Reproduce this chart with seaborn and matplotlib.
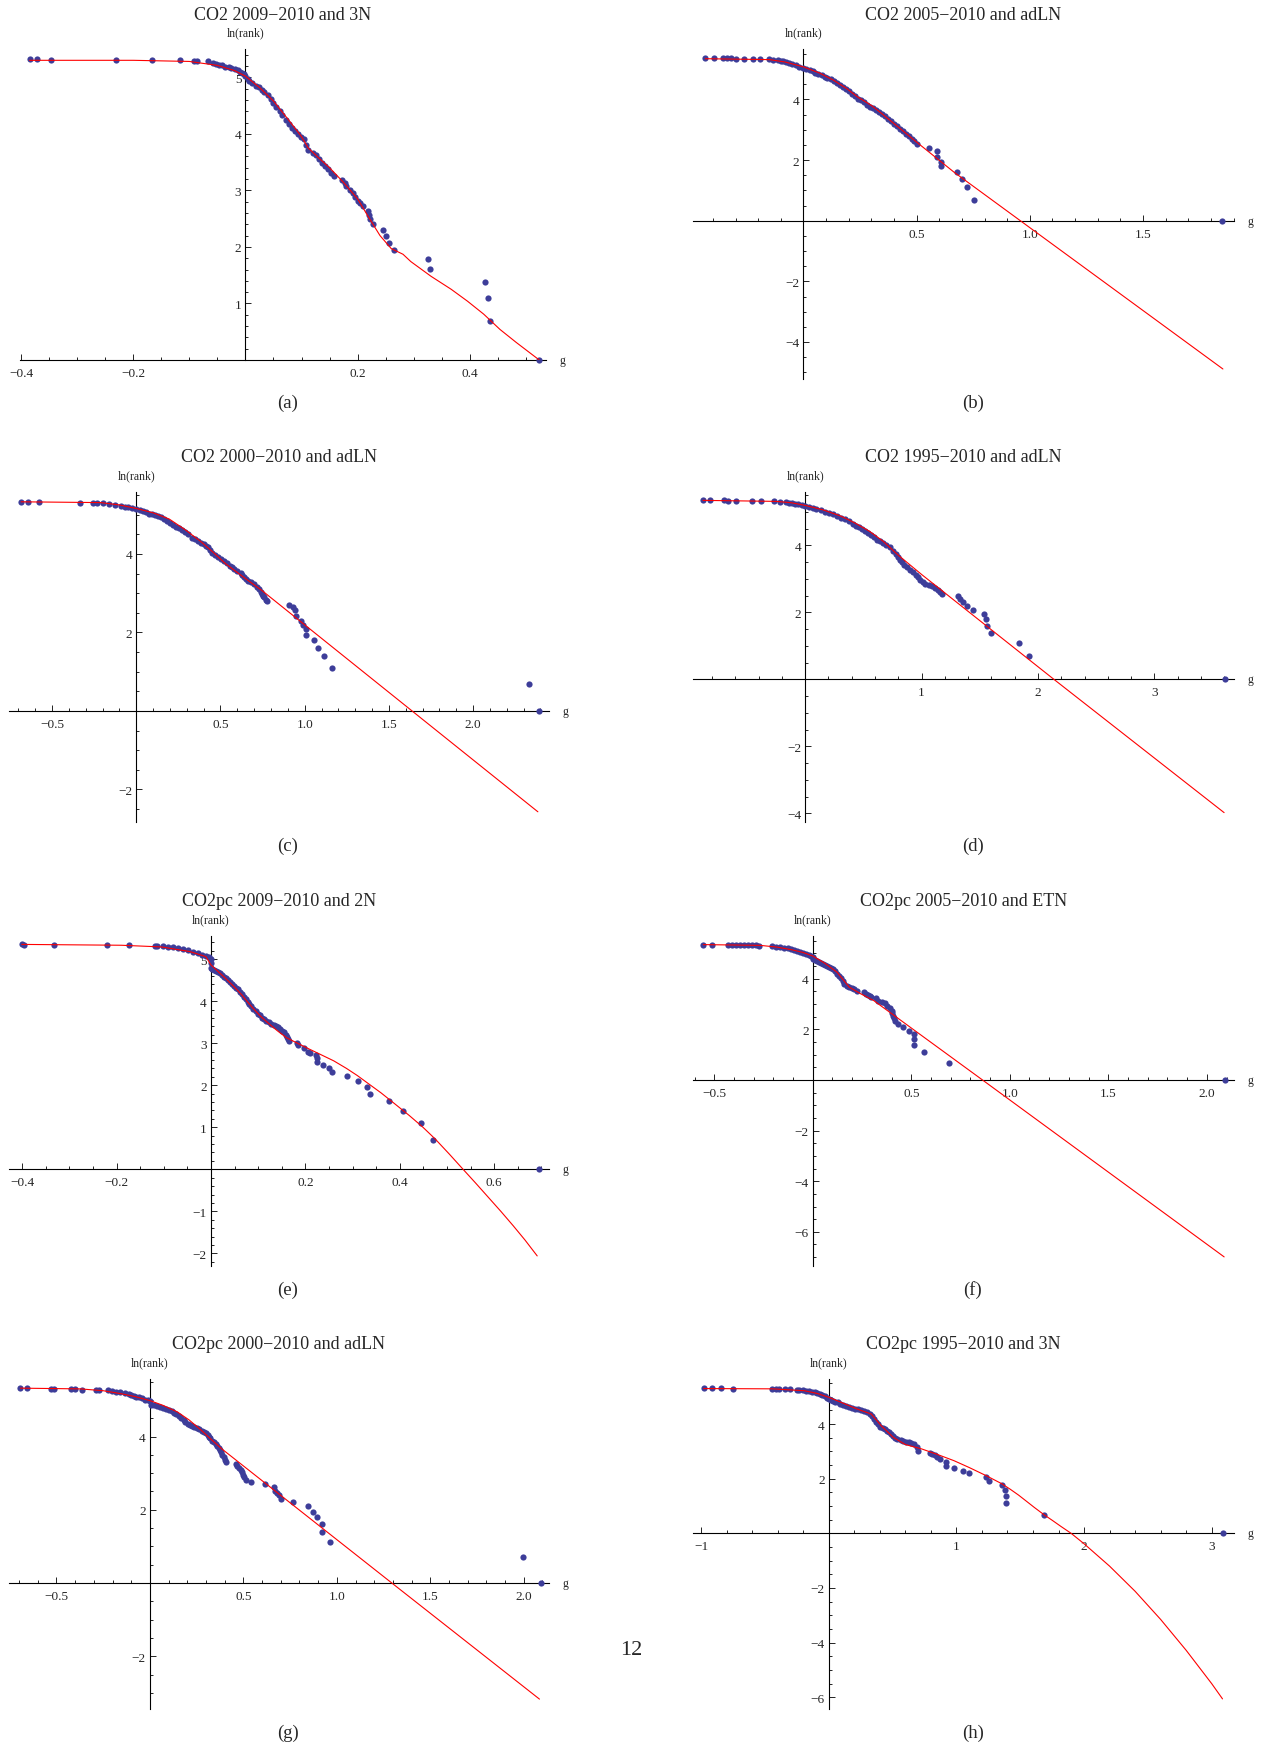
import matplotlib
matplotlib.use("Agg")
import matplotlib.pyplot as plt
import matplotlib.ticker as mticker
import seaborn as sns
import pandas as pd

# ---- panel titles / labels
titles = ["CO2 2009\u22122010 and 3N", "CO2 2005\u22122010 and adLN",
          "CO2 2000\u22122010 and adLN", "CO2 1995\u22122010 and adLN",
          "CO2pc 2009\u22122010 and 2N", "CO2pc 2005\u22122010 and ETN",
          "CO2pc 2000\u22122010 and adLN", "CO2pc 1995\u22122010 and 3N"]
sublabels = ["(a)", "(b)", "(c)", "(d)", "(e)", "(f)", "(g)", "(h)"]

# ---- (a) CO2 2009-2010, 3N
a_g = [-0.385, -0.371, -0.347, -0.231, -0.166, -0.117, -0.091, -0.086, -0.066, -0.058, -0.052, -0.047,
       -0.041, -0.036, -0.030, -0.025, -0.019, -0.014, -0.010, -0.007, -0.003, 0.0, 0.004, 0.007, 0.012,
       0.018, 0.024, 0.029, 0.034, 0.040, 0.045, 0.050, 0.055, 0.061, 0.066, 0.072, 0.077, 0.083, 0.088,
       0.094, 0.099, 0.104, 0.108, 0.112, 0.120, 0.126, 0.131, 0.137, 0.142, 0.148, 0.153, 0.158, 0.173,
       0.177, 0.180, 0.186, 0.191, 0.196, 0.200, 0.205, 0.209, 0.218, 0.220, 0.222, 0.227, 0.245, 0.250,
       0.256, 0.265, 0.326, 0.329, 0.427, 0.432, 0.436, 0.524]
a_rank = [5.32, 5.32, 5.31, 5.31, 5.30, 5.30, 5.29, 5.29, 5.28, 5.25, 5.24, 5.22,
          5.21, 5.19, 5.18, 5.16, 5.14, 5.12, 5.10, 5.08, 5.05, 5.02, 4.97, 4.93, 4.89,
          4.85, 4.82, 4.78, 4.74, 4.69, 4.62, 4.55, 4.48, 4.40, 4.33, 4.25, 4.18, 4.10, 4.05,
          3.99, 3.95, 3.90, 3.80, 3.72, 3.66, 3.63, 3.56, 3.49, 3.43, 3.37, 3.31, 3.25, 3.19,
          3.13, 3.07, 3.01, 2.96, 2.89, 2.81, 2.77, 2.72, 2.63, 2.56, 2.49, 2.40, 2.30, 2.19,
          2.07, 1.94, 1.79, 1.61, 1.38, 1.10, 0.69, 0.0]
a_fit_g = [-0.385, -0.2, -0.1, -0.05, -0.02, 0.0, 0.025, 0.05, 0.075, 0.1, 0.112, 0.13, 0.15, 0.175,
           0.2, 0.22, 0.24, 0.26, 0.281, 0.295, 0.331, 0.367, 0.396, 0.425, 0.454, 0.483, 0.524]
a_fit_y = [5.30, 5.30, 5.28, 5.21, 5.12, 5.02, 4.82, 4.58, 4.27, 3.95, 3.75, 3.58, 3.40, 3.14,
           2.85, 2.52, 2.20, 1.97, 1.87, 1.74, 1.48, 1.25, 1.04, 0.81, 0.54, 0.31, 0.0]

# ---- (b) CO2 2005-2010, adLN
b_g = [-0.434, -0.394, -0.355, -0.337, -0.320, -0.296, -0.261, -0.225, -0.190, -0.154, -0.133, -0.112,
       -0.100, -0.089, -0.075, -0.062, -0.049, -0.035, -0.018, 0.0, 0.013, 0.027, 0.040, 0.053, 0.066,
       0.080, 0.093, 0.106, 0.120, 0.133, 0.146, 0.160, 0.173, 0.186, 0.200, 0.213, 0.226, 0.239, 0.252,
       0.266, 0.280, 0.293, 0.306, 0.319, 0.333, 0.346, 0.359, 0.372, 0.386, 0.399, 0.412, 0.426, 0.439,
       0.452, 0.465, 0.479, 0.490, 0.500, 0.555, 0.589, 0.590, 0.608, 0.608, 0.679, 0.700, 0.722, 0.754,
       1.848]
b_rank = [5.37, 5.37, 5.36, 5.35, 5.35, 5.34, 5.34, 5.33, 5.33, 5.33, 5.31, 5.29,
          5.28, 5.26, 5.23, 5.20, 5.16, 5.12, 5.08, 5.04, 5.00, 4.96, 4.92, 4.88, 4.84,
          4.79, 4.75, 4.71, 4.66, 4.60, 4.54, 4.48, 4.42, 4.35, 4.27, 4.19, 4.10, 4.02, 3.97,
          3.91, 3.83, 3.75, 3.70, 3.64, 3.58, 3.53, 3.45, 3.36, 3.28, 3.20, 3.12, 3.03, 2.95,
          2.87, 2.79, 2.70, 2.62, 2.53, 2.40, 2.31, 2.09, 1.93, 1.80, 1.62, 1.38, 1.10, 0.69,
          0.0]
b_fit_g = [-0.434, -0.15, -0.08, 0.0, 0.07, 0.133, 0.19, 0.239, 0.30, 0.346, 0.42, 0.5, 0.665, 1.853]
b_fit_y = [5.34, 5.31, 5.23, 5.07, 4.87, 4.63, 4.36, 4.08, 3.80, 3.53, 3.08, 2.59, 1.60, -4.89]

# ---- (c) CO2 2000-2010, adLN
c_g = [-0.684, -0.646, -0.577, -0.335, -0.258, -0.234, -0.199, -0.163, -0.127, -0.091, -0.070, -0.048,
       -0.024, 0.0, 0.020, 0.041, 0.059, 0.077, 0.095, 0.112, 0.130, 0.148, 0.166, 0.184, 0.202, 0.220,
       0.238, 0.256, 0.274, 0.292, 0.310, 0.328, 0.346, 0.364, 0.382, 0.400, 0.412, 0.423, 0.435, 0.447,
       0.465, 0.483, 0.501, 0.519, 0.537, 0.555, 0.567, 0.579, 0.600, 0.620, 0.630, 0.639, 0.651, 0.663,
       0.681, 0.699, 0.715, 0.730, 0.738, 0.746, 0.754, 0.761, 0.768, 0.775, 0.909, 0.933, 0.945, 0.950,
       0.981, 0.990, 1.010, 1.010, 1.057, 1.081, 1.112, 1.160, 2.330, 2.392]
c_rank = [5.33, 5.33, 5.32, 5.31, 5.31, 5.30, 5.29, 5.28, 5.26, 5.23, 5.21, 5.19,
          5.17, 5.14, 5.11, 5.09, 5.06, 5.03, 5.01, 4.99, 4.97, 4.94, 4.90, 4.85, 4.79, 4.74,
          4.70, 4.65, 4.61, 4.57, 4.50, 4.42, 4.38, 4.34, 4.29, 4.25, 4.21, 4.17, 4.10, 4.03,
          3.97, 3.92, 3.88, 3.83, 3.77, 3.70, 3.66, 3.62, 3.57, 3.52, 3.46, 3.41, 3.36, 3.32,
          3.28, 3.24, 3.17, 3.11, 3.04, 2.98, 2.94, 2.90, 2.84, 2.79, 2.71, 2.64, 2.58, 2.41,
          2.29, 2.19, 2.08, 1.94, 1.80, 1.61, 1.39, 1.10, 0.69, 0.0]
c_fit_g = [-0.684, -0.211, -0.1, 0.0, 0.1, 0.196, 0.29, 0.388, 0.46, 0.531, 0.64, 0.746, 1.632, 2.385]
c_fit_y = [5.33, 5.31, 5.25, 5.16, 5.05, 4.89, 4.62, 4.30, 4.03, 3.75, 3.40, 3.07, 0.02, -2.57]

# ---- (d) CO2 1995-2010, adLN
d_g = [-0.878, -0.815, -0.697, -0.662, -0.592, -0.460, -0.380, -0.268, -0.216, -0.164, -0.137, -0.111,
       -0.085, -0.059, -0.030, 0.0, 0.032, 0.063, 0.097, 0.132, 0.167, 0.202, 0.237, 0.272, 0.307, 0.341,
       0.376, 0.411, 0.437, 0.463, 0.490, 0.516, 0.542, 0.568, 0.594, 0.620, 0.646, 0.672, 0.698, 0.725,
       0.751, 0.777, 0.795, 0.812, 0.830, 0.847, 0.873, 0.899, 0.925, 0.951, 0.969, 0.986, 1.008, 1.031,
       1.061, 1.091, 1.117, 1.143, 1.160, 1.178, 1.317, 1.334, 1.352, 1.394, 1.439, 1.533, 1.554, 1.561,
       1.596, 1.833, 1.927, 3.606]
d_rank = [5.34, 5.34, 5.34, 5.33, 5.32, 5.32, 5.32, 5.31, 5.30, 5.28, 5.27, 5.25,
          5.24, 5.22, 5.19, 5.16, 5.13, 5.10, 5.07, 5.04, 5.00, 4.96, 4.92, 4.87, 4.82, 4.77,
          4.71, 4.64, 4.59, 4.54, 4.48, 4.42, 4.36, 4.30, 4.24, 4.17, 4.12, 4.07, 4.01, 3.94,
          3.84, 3.74, 3.65, 3.57, 3.50, 3.42, 3.35, 3.27, 3.20, 3.12, 3.05, 2.97, 2.90, 2.84,
          2.80, 2.77, 2.71, 2.65, 2.60, 2.56, 2.49, 2.40, 2.30, 2.19, 2.07, 1.94, 1.79, 1.60,
          1.38, 1.09, 0.68, 0.0]
d_fit_g = [-0.878, -0.251, -0.12, 0.0, 0.15, 0.307, 0.43, 0.551, 0.67, 0.794, 1.003, 2.136, 3.599]
d_fit_y = [5.34, 5.31, 5.27, 5.19, 5.06, 4.87, 4.66, 4.42, 4.12, 3.72, 3.12, 0.0, -3.98]

# ---- (e) CO2pc 2009-2010, 2N
e_g = [-0.401, -0.397, -0.333, -0.220, -0.173, -0.119, -0.115, -0.102, -0.092, -0.081, -0.071, -0.060,
       -0.049, -0.038, -0.028, -0.020, -0.011, -0.004, 0.0, 0.0, 0.0, 0.002, 0.006, 0.010, 0.014, 0.018,
       0.023, 0.027, 0.031, 0.036, 0.040, 0.045, 0.049, 0.053, 0.057, 0.062, 0.066, 0.070, 0.074, 0.078,
       0.081, 0.085, 0.089, 0.095, 0.100, 0.104, 0.108, 0.113, 0.117, 0.122, 0.127, 0.133, 0.138, 0.142,
       0.146, 0.151, 0.155, 0.158, 0.161, 0.164, 0.166, 0.183, 0.185, 0.197, 0.206, 0.210, 0.223, 0.225,
       0.225, 0.237, 0.250, 0.257, 0.289, 0.311, 0.331, 0.336, 0.376, 0.406, 0.445, 0.471, 0.694]
e_rank = [5.35, 5.34, 5.33, 5.33, 5.33, 5.32, 5.31, 5.31, 5.30, 5.29, 5.27, 5.24,
          5.21, 5.18, 5.14, 5.10, 5.08, 5.05, 5.00, 4.90, 4.80, 4.77, 4.74, 4.72, 4.70, 4.66,
          4.62, 4.58, 4.54, 4.50, 4.46, 4.41, 4.36, 4.32, 4.28, 4.22, 4.16, 4.10, 4.04, 3.99,
          3.94, 3.88, 3.82, 3.76, 3.70, 3.66, 3.61, 3.57, 3.53, 3.50, 3.46, 3.43, 3.41, 3.38,
          3.34, 3.30, 3.26, 3.20, 3.14, 3.09, 3.05, 3.00, 2.95, 2.89, 2.80, 2.77, 2.73, 2.64,
          2.56, 2.49, 2.41, 2.31, 2.21, 2.09, 1.95, 1.79, 1.62, 1.39, 1.10, 0.69, 0.0]
e_fit_g = [-0.401, -0.190, -0.105, -0.045, -0.011, 0.0, 0.031, 0.05, 0.066, 0.076, 0.09, 0.105, 0.121,
           0.14, 0.16, 0.183, 0.21, 0.236, 0.26, 0.287, 0.31, 0.338, 0.36, 0.389, 0.42, 0.449, 0.475,
           0.505, 0.534, 0.56, 0.587, 0.614, 0.64, 0.665, 0.691]
e_fit_y = [5.35, 5.33, 5.29, 5.18, 5.06, 4.86, 4.54, 4.33, 4.14, 4.00, 3.82, 3.64, 3.48,
           3.30, 3.13, 3.00, 2.85, 2.71, 2.58, 2.40, 2.23, 2.00, 1.82, 1.56, 1.28, 1.00, 0.72,
           0.36, 0.0, -0.32, -0.66, -1.00, -1.34, -1.68, -2.06]

# ---- (f) CO2pc 2005-2010, ETN
f_g = [-0.556, -0.514, -0.432, -0.412, -0.391, -0.370, -0.350, -0.329, -0.308, -0.288, -0.272, -0.206,
       -0.185, -0.165, -0.144, -0.128, -0.113, -0.097, -0.082, -0.066, -0.051, -0.036, -0.021, -0.010,
       0.0, 0.0, 0.010, 0.021, 0.031, 0.041, 0.051, 0.062, 0.072, 0.082, 0.092, 0.103, 0.113, 0.123,
       0.134, 0.144, 0.152, 0.160, 0.172, 0.185, 0.197, 0.210, 0.226, 0.259, 0.268, 0.278, 0.288, 0.298,
       0.319, 0.333, 0.350, 0.366, 0.377, 0.391, 0.401, 0.404, 0.407, 0.412, 0.416, 0.432, 0.457, 0.490,
       0.514, 0.514, 0.514, 0.562, 0.689, 2.093]
f_rank = [5.35, 5.35, 5.35, 5.34, 5.34, 5.34, 5.33, 5.33, 5.32, 5.32, 5.30, 5.28,
          5.27, 5.25, 5.22, 5.20, 5.17, 5.14, 5.10, 5.07, 5.03, 4.99, 4.95, 4.91,
          4.86, 4.77, 4.73, 4.69, 4.66, 4.62, 4.58, 4.53, 4.50, 4.46, 4.42, 4.37, 4.29, 4.20,
          4.12, 4.03, 3.92, 3.80, 3.73, 3.67, 3.62, 3.58, 3.50, 3.47, 3.40, 3.34, 3.30, 3.27,
          3.23, 3.14, 3.10, 3.05, 2.94, 2.83, 2.74, 2.64, 2.54, 2.44, 2.34, 2.21, 2.08, 1.95,
          1.81, 1.62, 1.39, 1.11, 0.69, 0.0]
f_fit_g = [-0.556, -0.267, -0.18, -0.103, -0.05, 0.0, 0.06, 0.123, 0.185, 0.24, 0.309, 0.844, 2.088]
f_fit_y = [5.35, 5.32, 5.25, 5.14, 5.04, 4.90, 4.62, 4.26, 3.67, 3.42, 3.14, 0.10, -6.99]

# ---- (g) CO2pc 2000-2010, adLN
g_g = [-0.693, -0.658, -0.528, -0.513, -0.420, -0.403, -0.361, -0.286, -0.273, -0.225, -0.203, -0.180,
       -0.160, -0.134, -0.113, -0.100, -0.087, -0.072, -0.058, -0.042, -0.026, -0.013, 0.0, 0.006, 0.022,
       0.039, 0.055, 0.071, 0.088, 0.104, 0.117, 0.130, 0.142, 0.154, 0.167, 0.180, 0.190, 0.201, 0.212,
       0.223, 0.237, 0.251, 0.264, 0.277, 0.288, 0.299, 0.308, 0.316, 0.324, 0.331, 0.342, 0.353, 0.361,
       0.368, 0.375, 0.381, 0.388, 0.396, 0.402, 0.407, 0.461, 0.468, 0.476, 0.485, 0.494, 0.499, 0.504,
       0.515, 0.541, 0.613, 0.662, 0.671, 0.680, 0.688, 0.699, 0.768, 0.844, 0.872, 0.894, 0.922, 0.922,
       0.965, 1.998, 2.091]
g_rank = [5.33, 5.33, 5.31, 5.31, 5.30, 5.30, 5.28, 5.27, 5.27, 5.26, 5.24, 5.22,
          5.21, 5.18, 5.15, 5.13, 5.10, 5.09, 5.07, 5.04, 5.01, 4.99, 4.96, 4.87, 4.85,
          4.83, 4.80, 4.77, 4.75, 4.73, 4.69, 4.65, 4.61, 4.56, 4.50, 4.44, 4.40, 4.35, 4.31,
          4.28, 4.25, 4.23, 4.20, 4.16, 4.13, 4.10, 4.05, 4.00, 3.95, 3.89, 3.85, 3.80, 3.74,
          3.68, 3.62, 3.57, 3.50, 3.44, 3.37, 3.30, 3.25, 3.19, 3.13, 3.08, 3.03, 2.96, 2.89,
          2.82, 2.77, 2.71, 2.63, 2.52, 2.46, 2.41, 2.30, 2.20, 2.09, 1.95, 1.80, 1.61, 1.40,
          1.11, 0.70, 0.0]
g_fit_g = [-0.693, -0.372, -0.25, -0.156, -0.08, 0.0, 0.07, 0.147, 0.21, 0.277, 0.33, 0.385, 1.294, 2.084]
g_fit_y = [5.32, 5.30, 5.25, 5.17, 5.09, 4.98, 4.85, 4.67, 4.45, 4.16, 3.91, 3.66, 0.0, -3.17]

# ---- (h) CO2pc 1995-2010, 3N
h_g = [-0.981, -0.918, -0.848, -0.750, -0.443, -0.411, -0.390, -0.342, -0.301, -0.253, -0.230, -0.206,
       -0.182, -0.158, -0.135, -0.111, -0.090, -0.070, -0.051, -0.032, -0.016, 0.0, 0.016, 0.032, 0.051,
       0.070, 0.090, 0.111, 0.135, 0.158, 0.182, 0.206, 0.230, 0.253, 0.277, 0.301, 0.322, 0.342, 0.358,
       0.373, 0.389, 0.405, 0.421, 0.437, 0.456, 0.475, 0.490, 0.506, 0.522, 0.538, 0.562, 0.585, 0.606,
       0.627, 0.646, 0.665, 0.690, 0.696, 0.791, 0.810, 0.829, 0.850, 0.870, 0.918, 0.918, 0.981, 1.051,
       1.101, 1.234, 1.256, 1.354, 1.377, 1.392, 1.392, 1.687, 3.092]
h_rank = [5.32, 5.32, 5.32, 5.30, 5.29, 5.29, 5.28, 5.28, 5.27, 5.26, 5.24, 5.23,
          5.22, 5.21, 5.19, 5.16, 5.12, 5.09, 5.05, 5.01, 4.96, 4.91, 4.88, 4.85, 4.82,
          4.79, 4.75, 4.71, 4.67, 4.63, 4.60, 4.57, 4.55, 4.52, 4.49, 4.45, 4.38, 4.30, 4.19,
          4.09, 4.00, 3.91, 3.86, 3.82, 3.76, 3.70, 3.62, 3.55, 3.50, 3.45, 3.41, 3.37, 3.35,
          3.33, 3.30, 3.27, 3.15, 3.02, 2.94, 2.91, 2.87, 2.80, 2.72, 2.62, 2.48, 2.39, 2.29,
          2.20, 2.07, 1.93, 1.78, 1.60, 1.38, 1.10, 0.68, 0.0]
h_fit_g = [-0.981, -0.443, -0.190, -0.09, 0.0, 0.11, 0.222, 0.332, 0.411, 0.506, 0.60, 0.728, 0.85, 0.981,
           1.10, 1.234, 1.354, 1.42, 1.487, 1.55, 1.61, 1.687, 1.75, 1.82, 1.899, 2.0, 2.2, 2.4, 2.6,
           2.8, 3.0, 3.085]
h_fit_y = [5.30, 5.29, 5.22, 5.12, 4.98, 4.77, 4.55, 4.37, 3.94, 3.51, 3.25, 3.09, 2.89, 2.66,
           2.41, 2.11, 1.82, 1.62, 1.40, 1.17, 0.95, 0.68, 0.48, 0.25, 0.0, -0.38, -1.20, -2.12, -3.15,
           -4.28, -5.50, -6.06]

points = [(a_g, a_rank), (b_g, b_rank), (c_g, c_rank), (d_g, d_rank),
          (e_g, e_rank), (f_g, f_rank), (g_g, g_rank), (h_g, h_rank)]
fits = [(a_fit_g, a_fit_y), (b_fit_g, b_fit_y), (c_fit_g, c_fit_y), (d_fit_g, d_fit_y),
        (e_fit_g, e_fit_y), (f_fit_g, f_fit_y), (g_fit_g, g_fit_y), (h_fit_g, h_fit_y)]

# ---- layout: pixel box (left, top, right, bottom), limits, ticks
W, H = 1264, 1749
layout = [
    dict(box=(20, 50, 546, 361), xlim=(-0.402, 0.536), ylim=(0, 5.50),
         xt=[-0.4, -0.2, 0.2, 0.4], xm=0.05, yt=[1, 2, 3, 4, 5], ym=0.2, xf='{:.1f}'),
    dict(box=(693, 50, 1234, 380), xlim=(-0.488, 1.902), ylim=(-5.22, 5.66),
         xt=[0.5, 1.0, 1.5], xm=0.1, yt=[-4, -2, 2, 4], ym=0.5, xf='{:.1f}'),
    dict(box=(9, 493, 549, 823), xlim=(-0.756, 2.451), ylim=(-2.83, 5.58),
         xt=[-0.5, 0.5, 1.0, 1.5, 2.0], xm=0.1, yt=[-2, 2, 4], ym=0.5, xf='{:.1f}'),
    dict(box=(693, 493, 1234, 823), xlim=(-0.964, 3.684), ylim=(-4.26, 5.59),
         xt=[1, 2, 3], xm=0.2, yt=[-4, -2, 2, 4], ym=0.5, xf='{:.0f}'),
    dict(box=(9, 937, 549, 1267), xlim=(-0.428, 0.716), ylim=(-2.30, 5.55),
         xt=[-0.4, -0.2, 0.2, 0.4, 0.6], xm=0.05, yt=[-2, -1, 1, 2, 3, 4, 5], ym=0.2, xf='{:.1f}'),
    dict(box=(693, 937, 1234, 1267), xlim=(-0.608, 2.138), ylim=(-7.35, 5.69),
         xt=[-0.5, 0.5, 1.0, 1.5, 2.0], xm=0.1, yt=[-6, -4, -2, 2, 4], ym=0.5, xf='{:.1f}'),
    dict(box=(9, 1380, 549, 1710), xlim=(-0.754, 2.135), ylim=(-3.44, 5.57),
         xt=[-0.5, 0.5, 1.0, 1.5, 2.0], xm=0.1, yt=[-2, 2, 4], ym=0.5, xf='{:.1f}'),
    dict(box=(693, 1380, 1234, 1710), xlim=(-1.064, 3.175), ylim=(-6.43, 5.65),
         xt=[-1, 1, 2, 3], xm=0.2, yt=[-6, -4, -2, 2, 4], ym=0.5, xf='{:.0f}'),
]

sns.set_style("white")
plt.rcParams['font.family'] = ['Liberation Serif', 'DejaVu Serif']

fig = plt.figure(figsize=(W / 100, H / 100), dpi=100)
fig.patch.set_facecolor('white')


def fx(px):
    return px / W


def fy(py):
    return 1 - py / H


def minus_fmt(fmt):
    return mticker.FuncFormatter(lambda v, pos: fmt.format(v).replace('-', '\u2212'))


for i, lay in enumerate(layout):
    l, t, r, b = lay['box']
    ax = fig.add_axes([fx(l), fy(b), (r - l) / W, (b - t) / H])
    ax.set_facecolor('none')
    ax.set_xlim(*lay['xlim'])
    ax.set_ylim(*lay['ylim'])

    pg, pr = points[i]
    fg, fv = fits[i]
    sns.scatterplot(data=pd.DataFrame({'g': pg, 'r': pr}), x='g', y='r', ax=ax,
                    color='#3d3d99', s=20, linewidth=0, clip_on=False, zorder=3)
    sns.lineplot(data=pd.DataFrame({'g': fg, 'y': fv}), x='g', y='y', ax=ax,
                 color='#ff0000', linewidth=0.8, sort=False, estimator=None, zorder=4)
    ax.set_xlabel('')
    ax.set_ylabel('')

    for s in ['top', 'right']:
        ax.spines[s].set_visible(False)
    for s in ['left', 'bottom']:
        ax.spines[s].set_position(('data', 0))
        ax.spines[s].set_linewidth(0.8)
        ax.spines[s].set_color('black')
        ax.spines[s].set_zorder(2)

    ax.xaxis.set_major_locator(mticker.FixedLocator(lay['xt']))
    ax.xaxis.set_major_formatter(minus_fmt(lay['xf']))
    ax.xaxis.set_minor_locator(mticker.MultipleLocator(lay['xm']))
    ax.yaxis.set_major_locator(mticker.FixedLocator(lay['yt']))
    ax.yaxis.set_major_formatter(minus_fmt('{:.0f}'))
    ax.yaxis.set_minor_locator(mticker.MultipleLocator(lay['ym']))
    ax.tick_params(which='both', direction='in', color='black', width=0.6,
                   bottom=True, left=True, top=False, right=False)
    ax.tick_params(which='major', length=4, labelsize=9.5, pad=3)
    ax.tick_params(which='minor', length=2)
    ax.tick_params(axis='x', which='major', pad=5)

    # texts around each panel
    x0 = l + (0 - lay['xlim'][0]) / (lay['xlim'][1] - lay['xlim'][0]) * (r - l)
    y0 = b - (0 - lay['ylim'][0]) / (lay['ylim'][1] - lay['ylim'][0]) * (b - t)
    fig.text(fx((l + r) / 2), fy(t - 35), titles[i], ha='center', va='center', fontsize=13)
    fig.text(fx(x0), fy(t - 17), 'ln(rank)', ha='center', va='center', fontsize=8.5)
    fig.text(fx(r + 16), fy(y0), 'g', ha='center', va='center', fontsize=8.5)
    lx = 288 if i % 2 == 0 else 973
    fig.text(fx(lx), fy(t + 353), sublabels[i], ha='center', va='center', fontsize=13.5)

fig.text(fx(631), fy(1651), '12', ha='center', va='center', fontsize=16)

fig.savefig('out.png', dpi=100)
